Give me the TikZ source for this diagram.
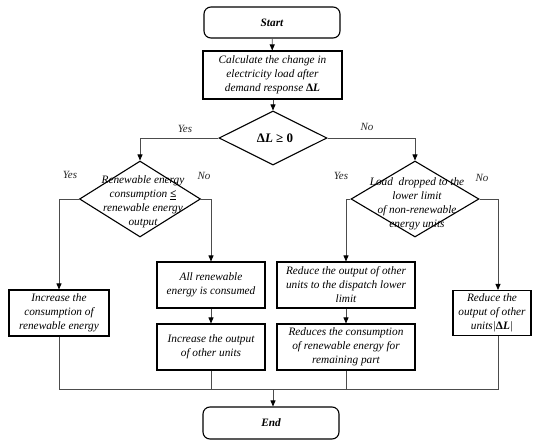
\documentclass[tikz,border=0pt]{standalone}
\usepackage{fontspec}
\setmainfont{Liberation Serif}
\usetikzlibrary{shapes.geometric,arrows.meta}
\newcommand{\dL}{\textbf{\upshape Δ}\textbf{\itshape L}}
\begin{document}
\begin{tikzpicture}[x=1pt,y=-1pt,
  txt/.style={font=\fontsize{11.3}{14}\selectfont\itshape, align=center},
  box/.style={draw, line width=1.1pt, inner sep=0pt, align=center, font=\fontsize{11.3}{14}\selectfont\itshape},
  term/.style={box, rounded corners=7pt, font=\fontsize{11.3}{14}\selectfont\bfseries\itshape},
  dia/.style={draw, line width=1.1pt, diamond, inner sep=0pt},
  conn/.style={draw=black!70, line width=0.8pt},
  arr/.style={conn, -{Triangle[length=6pt,width=5pt,color=black]}},
  lab/.style={font=\fontsize{11}{13}\selectfont\itshape, text=black!85}]
\useasboundingbox (0,0) rectangle (550,448);
% nodes
\node[term, minimum width=136, minimum height=31] (start) at (272,22.5) {Start};
\node[box, minimum width=139, minimum height=48] (calc) at (272.5,75) {Calculate the change in\\electricity load after\\demand response \dL};
\node[dia, minimum width=108, minimum height=54] (d1) at (273,138) {};
\node[font=\fontsize{13}{15}\selectfont\bfseries] (d1t) at (275,138) {Δ\textit{L} ≥ 0};
\node[dia, minimum width=121, minimum height=76] (d2) at (140,199) {};
\node[txt] (d2t) at (143,202) {Renewable energy\\consumption \underline{\textbf{≤}}\\renewable energy\\output};
\node[dia, minimum width=128, minimum height=76] (d3) at (415,199) {};
\node[txt] (d3t) at (417,204) {Load\ \ dropped to the\\lower limit\\of non-renewable\\energy units};
\node[box, minimum width=100, minimum height=46] (bL) at (59,313) {Increase the\\consumption of\\renewable energy};
\node[box, minimum width=108, minimum height=46] (bA) at (211,285) {All renewable\\energy is consumed};
\node[box, minimum width=108, minimum height=46] (bB) at (211,347) {Increase the output\\of other units};
\node[box, minimum width=138, minimum height=46] (bC) at (346,285) {Reduce the output of other\\units to the dispatch lower\\limit};
\node[box, minimum width=138, minimum height=46] (bD) at (346,347) {Reduces the consumption\\of renewable energy for\\remaining part};
\node[box, minimum width=78, minimum height=45] (bR) at (492,313) {Reduce the\\output of other\\units|\dL|};
\node[term, minimum width=136, minimum height=32] (end) at (271,423) {End};
\coordinate (j) at (273,389);
% labels
\node[lab] (y1) at (185,129) {Yes};
\node[lab] (n1) at (367,127) {No};
\node[lab] (y2) at (70,175) {Yes};
\node[lab] (n2) at (204,176) {No};
\node[lab] (y3) at (341,176) {Yes};
\node[lab] (n3) at (482,178) {No};
% connectors
\draw[arr] (start) -- (calc);
\draw[arr] (calc.south -| d1.north) -- (d1.north);
\draw[arr] (d1.west) -| (d2.north);
\draw[arr] (d1.east) -| (d3.north);
\draw[arr] (d2.west) -| (bL.north);
\draw[arr] (d2.east) -| (bA.north);
\draw[arr] (bA) -- (bB);
\draw[arr] (d3.west) -| (bC.north);
\draw[arr] (bC) -- (bD);
\draw[arr] (d3.east) -| ([xshift=6pt]bR.north);
\draw[conn] (bL.south) |- (j);
\draw[conn] ([xshift=6pt]bR.south) |- (j);
\draw[conn] (bB.south) -- (bB.south |- j);
\draw[conn] (bD.south) -- (bD.south |- j);
\draw[arr] (j) -- (j |- end.north);
\end{tikzpicture}
\end{document}
